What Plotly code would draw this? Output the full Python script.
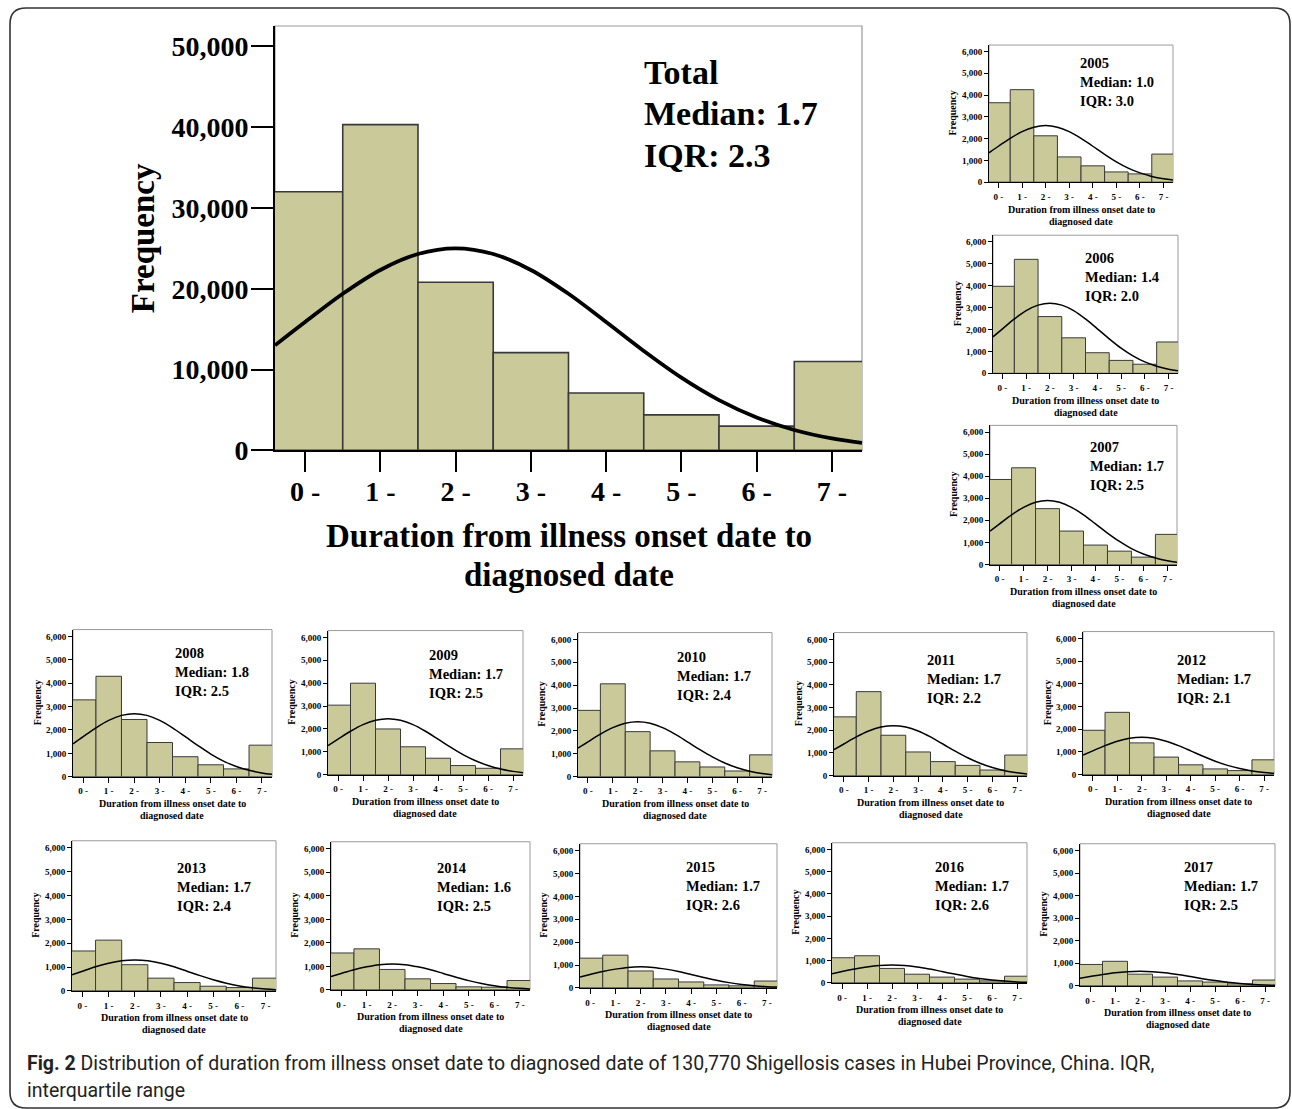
import plotly.graph_objects as go

W, H = 1292, 1109          # reference picture size (layout is designed in these pixels)
FIG_H = 1126               # rendered height (the capture is squeezed to 1109 rows)

# ---------------- data ----------------
categories = [0, 1, 2, 3, 4, 5, 6, 7]
x_tick_labels = ["0 -", "1 -", "2 -", "3 -", "4 -", "5 -", "6 -", "7 -"]
curve_x = [-0.4, 0, 0.5, 1, 1.5, 2, 2.5, 3, 3.5, 4, 4.5, 5, 5.5, 6, 6.5, 7, 7.4]

panel_names = ["Total", "2005", "2006", "2007", "2008", "2009", "2010", "2011",
               "2012", "2013", "2014", "2015", "2016", "2017"]
medians = ["1.7", "1.0", "1.4", "1.7", "1.8", "1.7", "1.7", "1.7",
           "1.7", "1.7", "1.6", "1.7", "1.7", "1.7"]
iqrs = ["2.3", "3.0", "2.0", "2.5", "2.5", "2.5", "2.4", "2.2",
        "2.1", "2.4", "2.5", "2.6", "2.6", "2.5"]

freq_total = [32000, 40300, 20800, 12100, 7100, 4400, 3000, 11000]
freq_2005 = [3650, 4250, 2130, 1160, 750, 470, 380, 1290]
freq_2006 = [3970, 5200, 2590, 1620, 940, 590, 415, 1430]
freq_2007 = [3850, 4380, 2530, 1515, 880, 605, 335, 1365]
freq_2008 = [3290, 4300, 2450, 1465, 855, 510, 335, 1350]
freq_2009 = [3040, 4000, 2000, 1220, 720, 400, 280, 1130]
freq_2010 = [2900, 4060, 1970, 1130, 650, 425, 250, 955]
freq_2011 = [2590, 3700, 1780, 1045, 620, 455, 250, 910]
freq_2012 = [1955, 2745, 1400, 775, 435, 255, 180, 655]
freq_2013 = [1675, 2130, 1100, 535, 350, 195, 140, 535]
freq_2014 = [1570, 1745, 870, 470, 270, 130, 115, 400]
freq_2015 = [1300, 1430, 740, 390, 260, 130, 90, 300]
freq_2016 = [1130, 1220, 650, 390, 260, 170, 90, 300]
freq_2017 = [950, 1090, 520, 390, 220, 170, 90, 260]

curve_total = [13000, 15875, 19375, 22325, 24300, 25000, 24300, 22325, 19375, 15875, 12300, 9000, 6225, 4075, 2525, 1475, 925]
curve_2005 = [1350, 1650, 2015, 2320, 2525, 2600, 2525, 2320, 2015, 1650, 1280, 935, 645, 425, 265, 155, 95]
curve_2006 = [1665, 2030, 2480, 2860, 3110, 3200, 3110, 2860, 2480, 2030, 1575, 1150, 795, 520, 325, 190, 120]
curve_2007 = [1510, 1840, 2250, 2590, 2820, 2900, 2820, 2590, 2250, 1840, 1425, 1045, 720, 475, 295, 170, 105]
curve_2008 = [1405, 1715, 2090, 2410, 2625, 2700, 2625, 2410, 2090, 1715, 1330, 970, 670, 440, 275, 160, 100]
curve_2009 = [1275, 1555, 1900, 2190, 2380, 2450, 2380, 2190, 1900, 1555, 1205, 880, 610, 400, 245, 145, 90]
curve_2010 = [1250, 1525, 1860, 2145, 2335, 2400, 2335, 2145, 1860, 1525, 1180, 865, 600, 390, 240, 140, 90]
curve_2011 = [1145, 1395, 1705, 1965, 2140, 2200, 2140, 1965, 1705, 1395, 1080, 790, 550, 360, 220, 130, 80]
curve_2012 = [860, 1050, 1280, 1475, 1605, 1650, 1605, 1475, 1280, 1050, 810, 595, 410, 270, 165, 95, 60]
curve_2013 = [675, 825, 1010, 1160, 1265, 1300, 1265, 1160, 1010, 825, 640, 470, 325, 210, 130, 75, 50]
curve_2014 = [570, 700, 855, 980, 1070, 1100, 1070, 980, 855, 700, 540, 395, 275, 180, 110, 65, 40]
curve_2015 = [480, 585, 715, 820, 895, 920, 895, 820, 715, 585, 455, 330, 230, 150, 95, 55, 35]
curve_2016 = [415, 510, 620, 715, 780, 800, 780, 715, 620, 510, 395, 290, 200, 130, 80, 45, 30]
curve_2017 = [340, 415, 505, 580, 630, 650, 630, 580, 505, 415, 320, 235, 160, 105, 65, 40, 25]

freqs = [freq_total, freq_2005, freq_2006, freq_2007, freq_2008, freq_2009, freq_2010,
         freq_2011, freq_2012, freq_2013, freq_2014, freq_2015, freq_2016, freq_2017]
curves = [curve_total, curve_2005, curve_2006, curve_2007, curve_2008, curve_2009, curve_2010,
          curve_2011, curve_2012, curve_2013, curve_2014, curve_2015, curve_2016, curve_2017]

x_title_lines = ["Duration from illness onset date to", "diagnosed date"]
caption_line1 = "<b>Fig. 2</b> Distribution of duration from illness onset date to diagnosed date of 130,770 Shigellosis cases in Hubei Province, China. IQR,"
caption_line2 = "interquartile range"

# ---------------- layout geometry (pixels of the reference) ----------------
boxes = [
    (275, 862, 26, 450),
    (989, 1173, 45, 182),
    (993, 1178, 235, 373),
    (990, 1177, 425, 564),
    (73, 272, 629, 776),
    (328, 523, 630, 774),
    (578, 772, 632, 776),
    (834, 1027, 632, 775),
    (1083, 1274, 631, 774),
    (72, 276, 840, 990),
    (331, 530, 841, 989),
    (580, 777, 843, 987),
    (832, 1027, 842, 982),
    (1080, 1275, 843, 985),
]
stats_pos = [
    (642, 72), (1078, 63), (1083, 258), (1088, 447),
    (173, 652), (427, 654), (675, 656), (925, 659), (1175, 659),
    (175, 867), (435, 867), (684, 866), (933, 866), (1182, 866),
]

SERIF = "Liberation Serif"
BAR_FILL = "#c9c99a"
BAR_EDGE = "#3a3a3a"


def px(x):
    return x / W


def py(y):
    return 1 - y / H


fig = go.Figure()
layout = dict(
    width=W, height=FIG_H, autosize=False,
    margin=dict(l=0, r=0, t=0, b=0),
    paper_bgcolor="white", plot_bgcolor="white",
    showlegend=False,
)
annotations = []
shapes = []

for i, (name, f, c) in enumerate(zip(panel_names, freqs, curves)):
    n = i + 1
    big = (i == 0)
    L, R, T, B = boxes[i]
    xa = "x" if n == 1 else f"x{n}"
    ya = "y" if n == 1 else f"y{n}"
    fig.add_trace(go.Bar(
        x=categories, y=f, width=1, xaxis=xa, yaxis=ya,
        marker=dict(color=BAR_FILL, line=dict(color=BAR_EDGE, width=1.6 if big else 1)),
        hoverinfo="skip",
    ))
    fig.add_trace(go.Scatter(
        x=curve_x, y=c, mode="lines", xaxis=xa, yaxis=ya,
        line=dict(color="black", width=3.8 if big else 1.5, shape="spline"),
        hoverinfo="skip",
    ))
    ymax = 52500 if big else 6300
    dtick = 10000 if big else 1000
    tick_fs = 28 if big else 9
    layout[f"xaxis{n if n > 1 else ''}"] = dict(
        domain=[px(L), px(R)], anchor=ya, range=[-0.4, 7.4],
        tickmode="array", tickvals=categories, ticktext=x_tick_labels,
        ticks="outside", ticklen=20 if big else 5, tickwidth=1.6 if big else 1, tickcolor="black",
        showline=True, linecolor="black", linewidth=1.6 if big else 1,
        showgrid=False, zeroline=False, fixedrange=True,
        ticklabelstandoff=-5 if big else 1,
        tickfont=dict(family=SERIF, size=tick_fs, color="black", weight="bold"),
    )
    layout[f"yaxis{n if n > 1 else ''}"] = dict(
        domain=[py(B), py(T)], anchor=xa, range=[0, ymax],
        tickmode="linear", tick0=0, dtick=dtick, tickformat=",d",
        ticks="outside", ticklen=22 if big else 4, tickwidth=1.6 if big else 1, tickcolor="black",
        showline=True, linecolor="black", linewidth=1.6 if big else 1,
        showgrid=False, zeroline=False, fixedrange=True,
        ticklabelstandoff=-3 if big else 0,
        tickfont=dict(family=SERIF, size=tick_fs, color="black", weight="bold"),
    )
    shapes.append(dict(type="rect", xref=f"{xa} domain", yref=f"{ya} domain",
                       x0=0, x1=1, y0=0, y1=1, layer="below",
                       line=dict(color="#9a9a9a", width=1.2 if big else 1)))

    sx, sy = stats_pos[i]
    sfs = 34 if big else 14.5
    sgap = 41.5 if big else 19
    for k, line in enumerate([name, f"Median: {medians[i]}", f"IQR: {iqrs[i]}"]):
        annotations.append(dict(
            text=line, x=px(sx), y=py(sy + k * sgap), xref="paper", yref="paper",
            xanchor="left", yanchor="middle", showarrow=False,
            font=dict(family=SERIF, size=sfs, color="black", weight="bold"),
        ))
    xfs = 33 if big else 10
    offs = [86, 124] if big else [27, 39]
    for k, line in enumerate(x_title_lines):
        annotations.append(dict(
            text=line, x=px((L + R) / 2), y=py(B + offs[k]), xref="paper", yref="paper",
            xanchor="center", yanchor="middle", showarrow=False,
            font=dict(family=SERIF, size=xfs, color="black", weight="bold"),
        ))
    annotations.append(dict(
        text="Frequency", x=px(L - (132 if big else 36)), y=py((T + B) / 2),
        xref="paper", yref="paper", xanchor="center", yanchor="middle",
        textangle=-90, showarrow=False,
        font=dict(family=SERIF, size=33 if big else 10, color="black", weight="bold"),
    ))

for k, (line, y) in enumerate([(caption_line1, 1063), (caption_line2, 1090)]):
    annotations.append(dict(
        text=line, x=px(25), y=py(y), xref="paper", yref="paper",
        xanchor="left", yanchor="middle", showarrow=False,
        font=dict(family="Roboto", size=19.5, color="#222222"),
    ))

x0, x1, y0, y1, r = 10, 1290, 8, 1107, 16
pts = lambda x, y: f"{px(x):.5f},{py(y):.5f}"
path = (f"M {pts(x0 + r, y0)} L {pts(x1 - r, y0)} Q {pts(x1, y0)} {pts(x1, y0 + r)} "
        f"L {pts(x1, y1 - r)} Q {pts(x1, y1)} {pts(x1 - r, y1)} "
        f"L {pts(x0 + r, y1)} Q {pts(x0, y1)} {pts(x0, y1 - r)} "
        f"L {pts(x0, y0 + r)} Q {pts(x0, y0)} {pts(x0 + r, y0)} Z")
shapes.append(dict(type="path", xref="paper", yref="paper", path=path,
                   line=dict(color="#333333", width=1.6), layer="below"))

layout["annotations"] = annotations
layout["shapes"] = shapes
fig.update_layout(**layout)

page_script = (
    "document.documentElement.style.margin='0';"
    "document.documentElement.style.overflow='hidden';"
    "document.body.style.margin='0';document.body.style.padding='0';"
    "document.body.style.overflow='hidden';"
)
fig.write_html(
    "out.html",
    config={"displayModeBar": False},
    post_script=page_script,
)
